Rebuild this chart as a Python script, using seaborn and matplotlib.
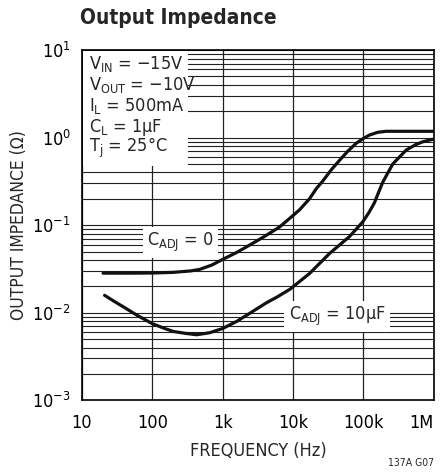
import numpy as np
import pandas as pd
import matplotlib
matplotlib.use("Agg")
import matplotlib.pyplot as plt
import seaborn as sns
from matplotlib.ticker import LogLocator, FixedLocator, FixedFormatter, NullFormatter

# C_ADJ = 0 curve
freq_c0 = [20, 50, 100, 200, 350, 470, 700, 1000, 1600, 2400, 4000, 6400, 9000, 12400, 17100,
           21300, 26500, 35000, 45700, 60000, 78700, 100000, 122000, 160000, 210000, 1000000]
z_c0 = [0.0283, 0.0283, 0.0284, 0.0289, 0.0300, 0.0312, 0.035, 0.0406, 0.049, 0.059, 0.075,
        0.095, 0.12, 0.15, 0.20, 0.26, 0.32, 0.43, 0.55, 0.70, 0.86, 0.98, 1.07, 1.15, 1.18, 1.18]

# C_ADJ = 10uF curve
freq_c10 = [21, 30, 40, 60, 100, 150, 200, 300, 425, 650, 1000, 1600, 2400, 4200, 6000, 9000,
            17100, 33000, 63200, 97800, 120000, 143000, 165000, 188000, 261000, 404000, 550000,
            694000, 955000]
z_c10 = [0.0158, 0.0132, 0.0115, 0.0094, 0.0075, 0.0066, 0.0061, 0.0058, 0.0056, 0.0059,
         0.0066, 0.0080, 0.0098, 0.0130, 0.0152, 0.0185, 0.028, 0.0475, 0.074, 0.109, 0.14,
         0.18, 0.24, 0.31, 0.50, 0.72, 0.83, 0.895, 0.955]

x_ticks = [10, 100, 1000, 10000, 100000, 1000000]
x_labels = ["10", "100", "1k", "10k", "100k", "1M"]

conditions = [r"V$_{\mathrm{IN}}$ = −15V", r"V$_{\mathrm{OUT}}$ = −10V", r"I$_{\mathrm{L}}$ = 500mA",
              r"C$_{\mathrm{L}}$ = 1µF", r"T$_{\mathrm{j}}$ = 25°C"]

df = pd.concat([
    pd.DataFrame({"freq": freq_c0, "z": z_c0, "cap": "0"}),
    pd.DataFrame({"freq": freq_c10, "z": z_c10, "cap": "10"}),
])

sns.set_style("white")
plt.rcParams["font.family"] = ["DejaVu Sans"]
plt.rcParams["font.stretch"] = "condensed"
plt.rcParams["mathtext.fontset"] = "custom"
plt.rcParams["mathtext.rm"] = "DejaVu Sans:stretch=condensed"
plt.rcParams["mathtext.it"] = "DejaVu Sans:stretch=condensed"
plt.rcParams["mathtext.default"] = "rm"
plt.rcParams["axes.unicode_minus"] = True

fig = plt.figure(figsize=(4.45, 4.72), dpi=100)
ax = fig.add_axes([0.184, 0.152, 0.791, 0.742])

ax.set_xscale("log")
ax.set_yscale("log")
ax.set_xlim(10, 1e6)
ax.set_ylim(1e-3, 10)

# grid
for f in x_ticks:
    ax.axvline(f, color="#222222", lw=0.9, zorder=1)
for d in [1e-3, 1e-2, 1e-1, 1, 10]:
    for m in range(1, 10):
        v = d * m
        if v <= 10:
            ax.axhline(v, color="#222222", lw=0.8, zorder=1)

sns.lineplot(data=df, x="freq", y="z", units="cap", estimator=None, color="#111111",
             lw=2.3, ax=ax, zorder=3, legend=False)

ax.xaxis.set_major_locator(FixedLocator(x_ticks))
ax.xaxis.set_major_formatter(FixedFormatter(x_labels))
ax.xaxis.set_minor_locator(FixedLocator([]))
ax.yaxis.set_major_locator(LogLocator(base=10, numticks=10))
ax.yaxis.set_minor_locator(LogLocator(base=10, subs=np.arange(2, 10), numticks=20))
ax.yaxis.set_minor_formatter(NullFormatter())
ax.tick_params(axis="both", which="major", length=0, labelsize=13, colors="black")
ax.tick_params(axis="x", which="major", pad=10)
ax.tick_params(axis="y", which="major", pad=8)
ax.tick_params(axis="y", which="minor", direction="in", length=3, width=0.8)
for s in ax.spines.values():
    s.set_color("black")
    s.set_linewidth(1.2)

# last x label sits inside the figure edge
fig.canvas.draw()
ax.get_xticklabels()[-1].set_horizontalalignment("right")
ax.get_xticklabels()[-1].set_x(1000000)

ax.set_xlabel("FREQUENCY (Hz)", fontsize=13, labelpad=7)
ax.set_ylabel("OUTPUT IMPEDANCE (Ω)", fontsize=12.5, labelpad=3)

# condition text block
ax.add_patch(plt.Rectangle((0.004, 0.67), 0.297, 0.326, transform=ax.transAxes,
                           facecolor="white", edgecolor="none", zorder=2))
for i, t in enumerate(conditions):
    ax.text(0.02, 0.96 - i * 0.06, t, transform=ax.transAxes, fontsize=13,
            va="center", ha="left", zorder=4)

ax.text(0.28, 0.45, r"C$_{\mathrm{ADJ}}$ = 0", transform=ax.transAxes, fontsize=13,
        ha="center", va="center", zorder=4,
        bbox=dict(facecolor="white", edgecolor="none", pad=3))
ax.text(0.725, 0.239, r"C$_{\mathrm{ADJ}}$ = 10µF", transform=ax.transAxes, fontsize=13,
        ha="center", va="center", zorder=4,
        bbox=dict(facecolor="white", edgecolor="none", pad=3))

fig.text(0.18, 0.962, "Output Impedance", fontsize=15, fontweight="bold", ha="left", va="center")
fig.text(0.975, 0.019, "137A G07", fontsize=7.5, ha="right", va="center")

fig.savefig("out.png", dpi=100)
